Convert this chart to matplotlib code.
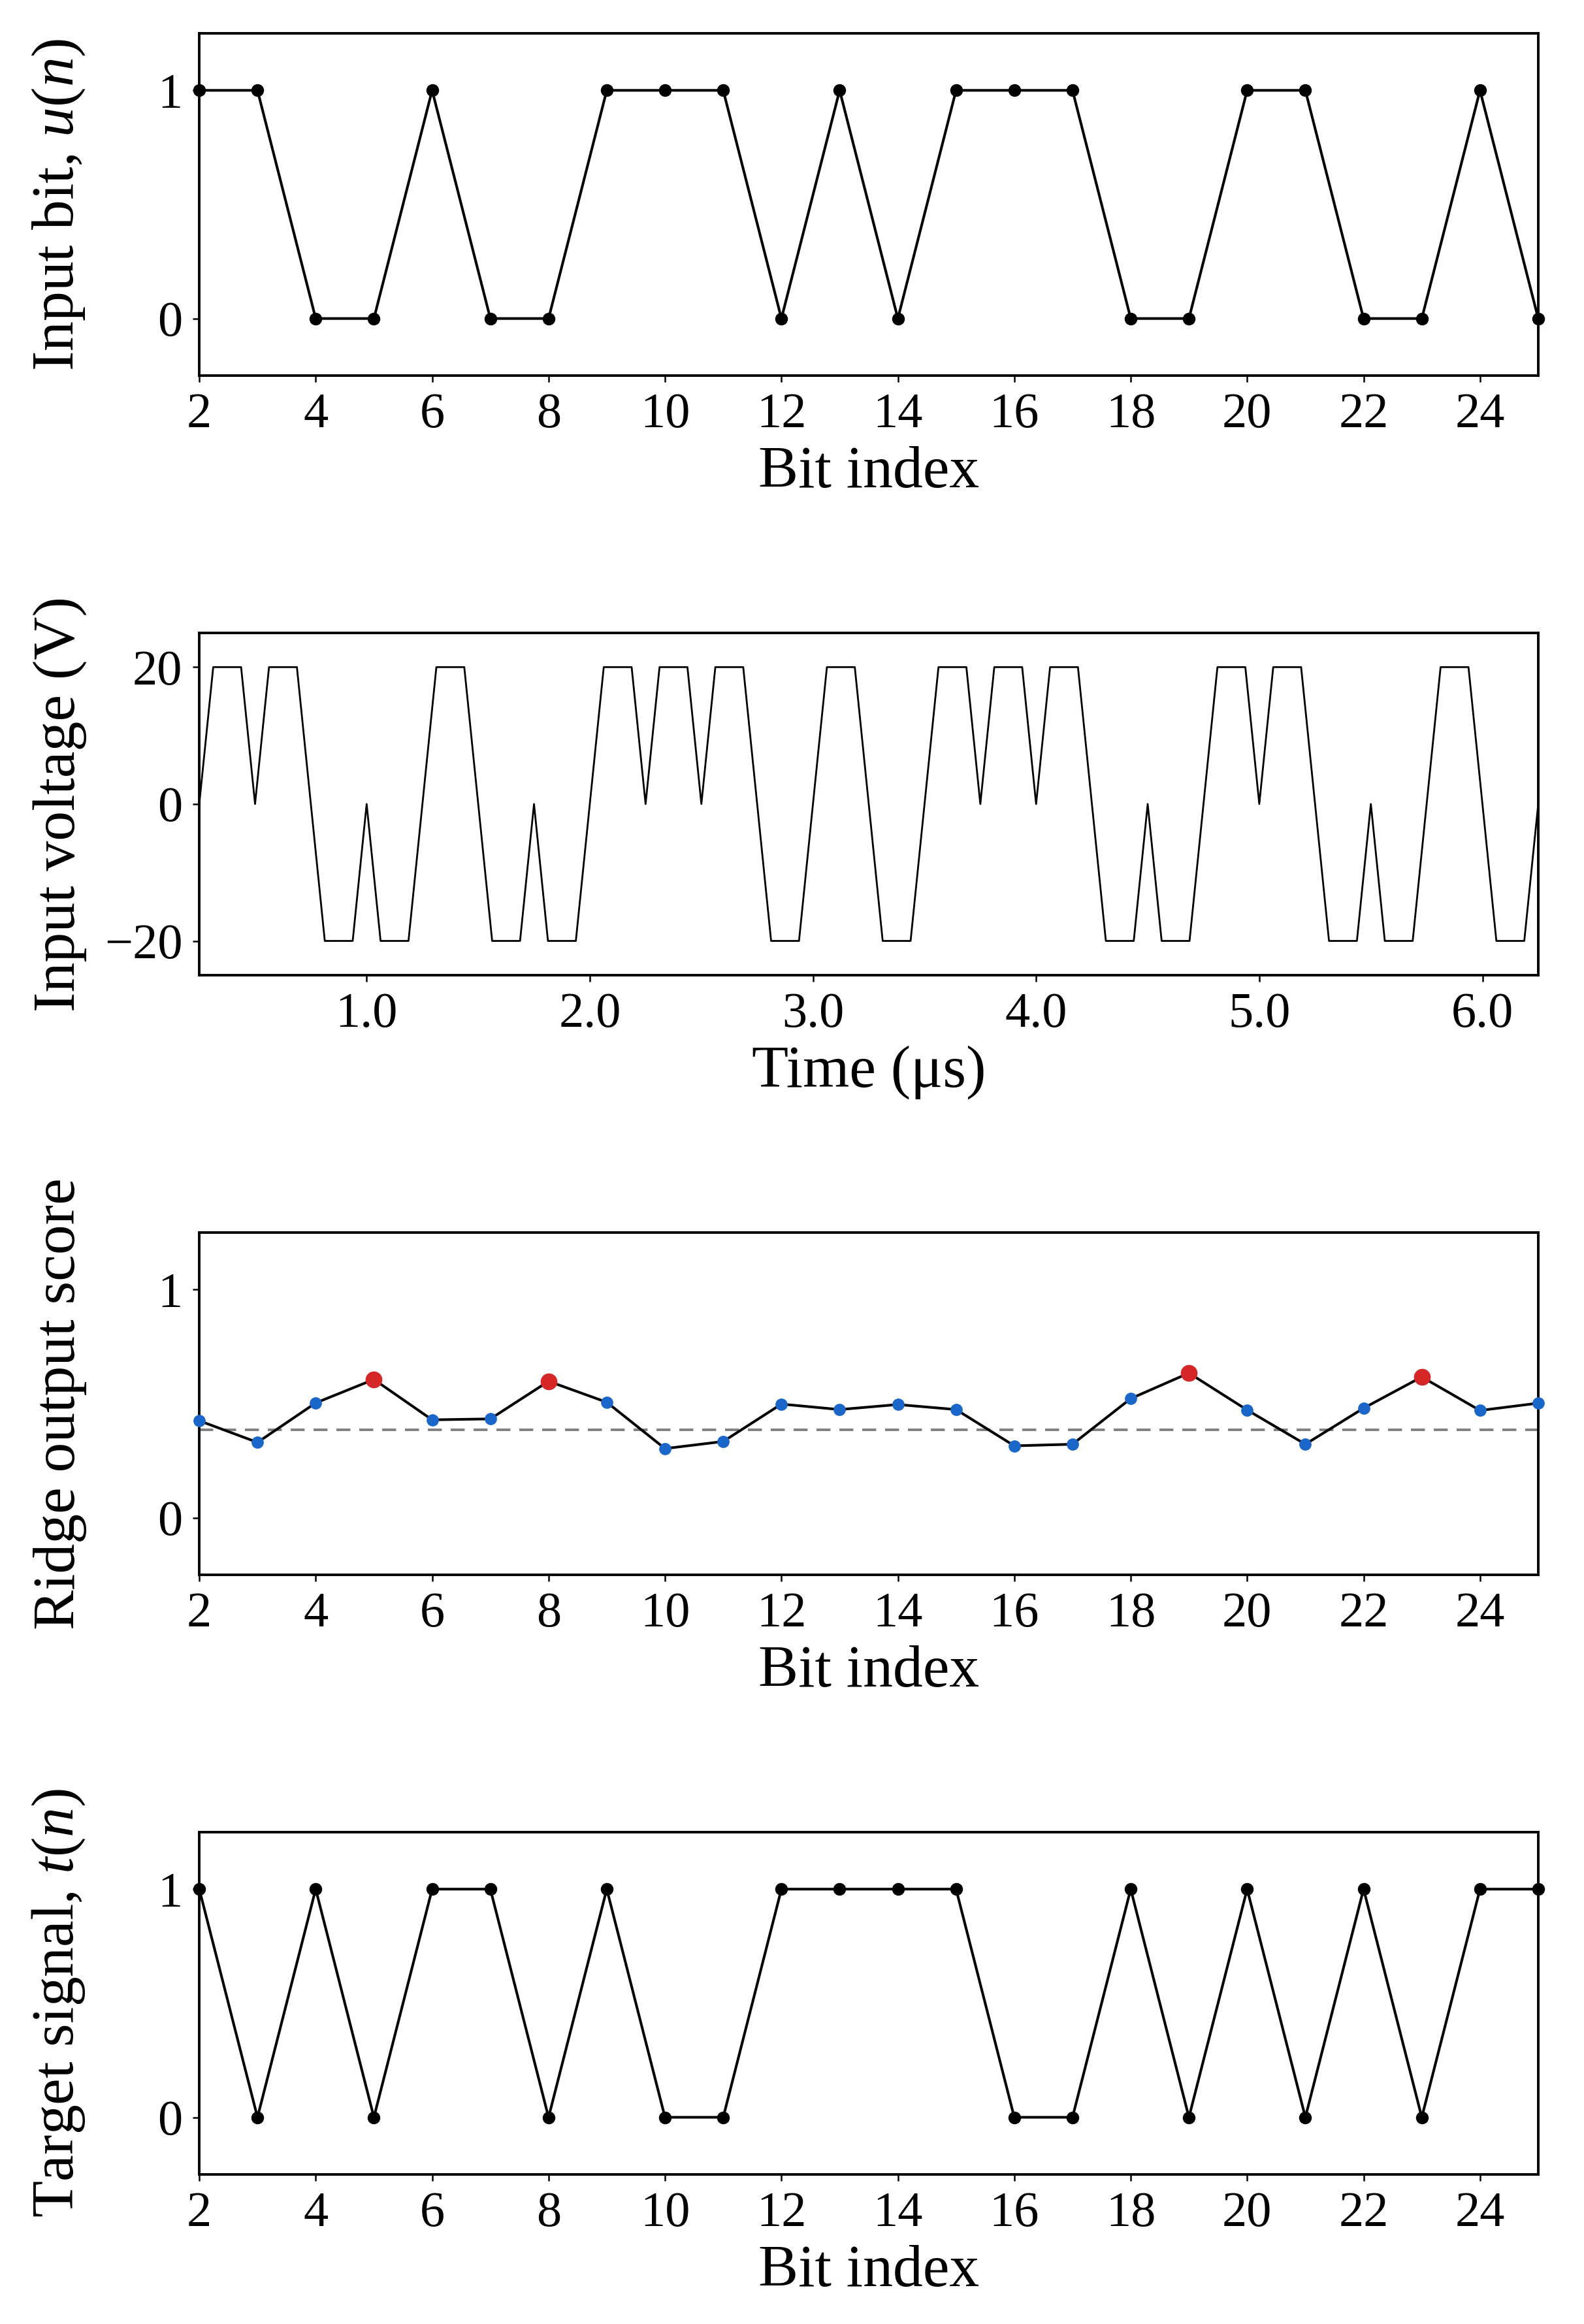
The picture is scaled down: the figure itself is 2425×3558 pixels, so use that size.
import numpy as np
import matplotlib
matplotlib.use('Agg')
import matplotlib.pyplot as plt

plt.rcParams['font.family'] = ['Liberation Serif', 'DejaVu Serif']
plt.rcParams['mathtext.fontset'] = 'custom'
plt.rcParams['mathtext.rm'] = 'Liberation Serif'
plt.rcParams['mathtext.it'] = 'Liberation Serif:italic'
plt.rcParams['axes.linewidth'] = 2.8

# bit indices shown on the three bit panels
bits = np.arange(2, 26)

# input bits u(n)
u_bits = [1, 1, 0, 0, 1, 0, 0, 1, 1, 1, 0, 1, 0, 1, 1, 1, 0, 0, 1, 1, 0, 0, 1, 0]

# input voltage samples (V), 4 samples per bit of 0.25 us, plus end point
volts = [0, 20, 20, 20,     # 2
         0, 20, 20, 20,     # 3
         0, -20, -20, -20,  # 4
         0, -20, -20, -20,  # 5
         0, 20, 20, 20,     # 6
         0, -20, -20, -20,  # 7
         0, -20, -20, -20,  # 8
         0, 20, 20, 20,     # 9
         0, 20, 20, 20,     # 10
         0, 20, 20, 20,     # 11
         0, -20, -20, -20,  # 12
         0, 20, 20, 20,     # 13
         0, -20, -20, -20,  # 14
         0, 20, 20, 20,     # 15
         0, 20, 20, 20,     # 16
         0, 20, 20, 20,     # 17
         0, -20, -20, -20,  # 18
         0, -20, -20, -20,  # 19
         0, 20, 20, 20,     # 20
         0, 20, 20, 20,     # 21
         0, -20, -20, -20,  # 22
         0, -20, -20, -20,  # 23
         0, 20, 20, 20,     # 24
         0, -20, -20, -20,  # 25
         0]
time_us = np.linspace(0.25, 6.25, len(volts))

# ridge readout scores
scores = [0.425, 0.330, 0.503, 0.606, 0.429, 0.433, 0.598, 0.506, 0.303, 0.334,
          0.498, 0.474, 0.496, 0.474, 0.315, 0.322, 0.522, 0.634, 0.472, 0.322,
          0.480, 0.617, 0.470, 0.502]
threshold = 0.384

# target t(n)
t_bits = [1, 0, 1, 0, 1, 1, 0, 1, 0, 0, 1, 1, 1, 1, 0, 0, 1, 0, 1, 0, 1, 0, 1, 1]

scores = np.array(scores)
t_arr = np.array(t_bits)
wrong = (scores > threshold).astype(int) != t_arr

fig = plt.figure(figsize=(24.25, 35.58), dpi=100)
left, width, height = 0.1258, 0.8453, 0.14727
bottoms = [0.8384, 0.5804, 0.3224, 0.0644]
axs = [fig.add_axes([left, b, width, height]) for b in bottoms]

tick_fs = 55
label_fs = 66
lw = 2.9
ms = 13

for ax in axs:
    ax.tick_params(labelsize=tick_fs, length=7.5, width=1.8, pad=11)

# panel 1
ax = axs[0]
ax.plot(bits, u_bits, color='black', lw=lw, marker='o', ms=ms, clip_on=False, zorder=3)
ax.set_ylabel('Input bit, $u(n)$', fontsize=label_fs)

# panel 2
ax = axs[1]
ax.plot(time_us, volts, color='black', lw=2.0)
ax.set_xlim(0.25, 6.25)
ax.set_ylim(-25, 25)
ax.set_yticks([-20, 0, 20])
ax.set_yticklabels(['\u221220', '0', '20'])
ax.set_xticks([1, 2, 3, 4, 5, 6])
ax.set_xticklabels(['1.0', '2.0', '3.0', '4.0', '5.0', '6.0'])
ax.set_ylabel('Input voltage (V)', fontsize=label_fs)
ax.set_xlabel('Time (\u03bcs)', fontsize=label_fs)

# panel 3
ax = axs[2]
ax.axhline(threshold, color='#808080', lw=2.8, linestyle=(0, (5.5, 3.5)), zorder=1)
ax.plot(bits, scores, color='black', lw=lw, zorder=2)
ax.plot(bits[~wrong], scores[~wrong], 'o', color='#1a66c9', ms=13.5, mew=0,
        clip_on=False, zorder=3)
ax.plot(bits[wrong], scores[wrong], 'o', color='#d62728', ms=18.5, mew=0,
        clip_on=False, zorder=4)
ax.set_ylabel('Ridge output score', fontsize=label_fs)

# panel 4
ax = axs[3]
ax.plot(bits, t_bits, color='black', lw=lw, marker='o', ms=ms, clip_on=False, zorder=3)
ax.set_ylabel('Target signal, $t(n)$', fontsize=label_fs)

for ax in [axs[0], axs[2], axs[3]]:
    ax.set_xlim(2, 25)
    ax.set_ylim(-0.25, 1.25)
    ax.set_yticks([0, 1])
    ax.set_xticks(np.arange(2, 25, 2))
    ax.set_xlabel('Bit index', fontsize=label_fs)

for ax in axs:
    ax.yaxis.set_label_coords(-0.084, 0.5)
    ax.xaxis.set_label_coords(0.5, -0.205)

fig.savefig('out.png', dpi=100, facecolor='white')
